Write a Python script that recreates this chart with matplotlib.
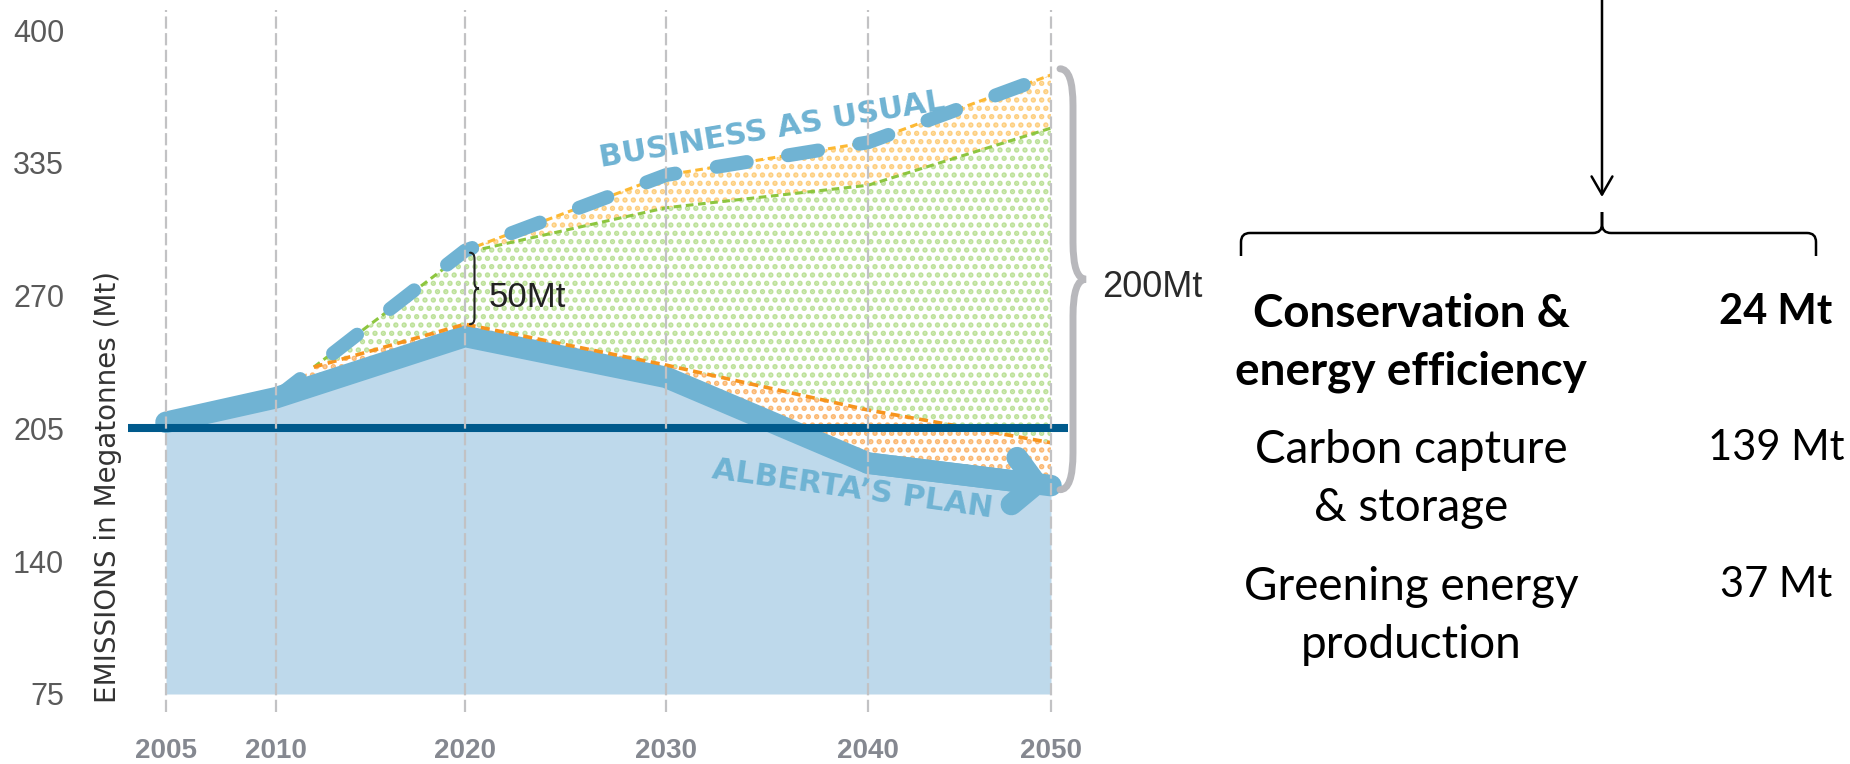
import numpy as np
import matplotlib
matplotlib.use("Agg")
import matplotlib.pyplot as plt
from matplotlib.path import Path
from matplotlib.patches import PathPatch

# emissions in Mt
years = [2005, 2010, 2020, 2030, 2040, 2050]
plan = [208, 220, 250, 230, 188, 177]
bau_years = [2010, 2020, 2030, 2040, 2050]
bau = [220, 292, 329, 345, 378]
wedge_years = [2012, 2020, 2030, 2040, 2050]
green_edge = [235, 291, 313, 324, 352]
orange_edge = [235, 256, 236, 214, 198]
level_2005 = 205
y_ticks = [75, 140, 205, 270, 335, 400]

wedge_names = ["Conservation &\nenergy efficiency",
               "Carbon capture\n& storage",
               "Greening energy\nproduction"]
wedge_mt = [24, 139, 37]

# the year axis in the original is not evenly spaced
tick_x = [0, 110, 299, 500, 702, 885]


def xp(y):
    return np.interp(y, years, tick_x)


def vbrace(ax, x0, w, ytop, ybot, r, **kw):
    # vertical curly brace, pointing right
    xm, x1, ym = x0 + w / 2, x0 + w, (ytop + ybot) / 2
    verts = [(x0, ytop), (xm, ytop), (xm, ytop - r),
             (xm, ym + r), (xm, ym), (x1, ym),
             (xm, ym), (xm, ym - r),
             (xm, ybot + r), (xm, ybot), (x0, ybot)]
    codes = [Path.MOVETO, Path.CURVE3, Path.CURVE3,
             Path.LINETO, Path.CURVE3, Path.CURVE3,
             Path.CURVE3, Path.CURVE3,
             Path.LINETO, Path.CURVE3, Path.CURVE3]
    ax.add_patch(PathPatch(Path(verts, codes), fill=False, capstyle="round", **kw))


plt.rcParams["font.family"] = ["Liberation Sans", "DejaVu Sans"]
plt.rcParams["hatch.linewidth"] = 2.6

W, H = 1850, 764
fig = plt.figure(figsize=(W / 100, H / 100), dpi=100)
px_per_mt = 2.043
ax = fig.add_axes([110 / W, (H - 720) / H, (1240 - 110) / W, 720 / H])
ax.set_xlim(110 - 166, 1240 - 166)
ax.set_ylim(75 - 26 / px_per_mt, 400 + 30 / px_per_mt)
for s in ax.spines.values():
    s.set_visible(False)
ax.patch.set_alpha(0)

ax.set_xticks(tick_x, [str(y) for y in years], fontsize=20, fontweight="bold", color="#858890")
ax.set_yticks(y_ticks, [str(v) for v in y_ticks], fontsize=22, color="#5a5a5a")
ax.tick_params(length=0)
ax.tick_params(axis="x", pad=13)
ax.tick_params(axis="y", pad=33)

# dotted wedges
ax.fill(list(xp(bau_years[1:])) + list(xp(wedge_years[1:]))[::-1],
        bau[1:] + green_edge[1:][::-1],
        facecolor="none", edgecolor="#fdcf80", hatch="..", lw=0, zorder=1)
ax.fill(list(xp(wedge_years)) + list(xp(wedge_years))[::-1],
        green_edge + orange_edge[::-1],
        facecolor="none", edgecolor="#bde19a", hatch="..", lw=0, zorder=1)
ax.fill(list(xp(wedge_years)) + list(xp(years[1:]))[::-1],
        orange_edge + plan[1:][::-1],
        facecolor="none", edgecolor="#fbb872", hatch="..", lw=0, zorder=1)

ax.plot(xp(bau_years[1:]), bau[1:], color="#fdb933", lw=2.2, dashes=(2.5, 1.5), zorder=2)
ax.plot(xp(wedge_years), green_edge, color="#8dc63f", lw=2.2, dashes=(2.5, 1.5), zorder=2)

# Alberta's plan
ax.fill_between(xp(years), y_ticks[0], plan, color="#bed9eb", lw=0, zorder=3)
plan_col = "#70b3d3"
ax.plot(xp(years), plan, color=plan_col, lw=15.5, solid_capstyle="round",
        solid_joinstyle="round", zorder=4)
ax.annotate("", xy=(xp(years[-1]), plan[-1]), xytext=(xp(years[-2]), plan[-2]),
            arrowprops=dict(arrowstyle="->,head_length=0.8,head_width=0.85", lw=15.5,
                            color=plan_col, capstyle="round", joinstyle="round",
                            mutation_scale=20, shrinkA=0, shrinkB=0), zorder=4)
ax.plot(xp(wedge_years), orange_edge, color="#f7941d", lw=2.6, dashes=(2.5, 1.5), zorder=5)

ax.hlines(level_2005, 128 - 166, 1068 - 166, color="#005a8c", lw=5.8, zorder=6)

# business as usual
ax.plot(xp(bau_years), bau, color=plan_col, lw=10, dashes=(2.2, 3.0),
        dash_capstyle="round", zorder=7)

ax.vlines(tick_x, 66, 410, colors="#c2c2c4", lw=1.6, linestyles=(0, (5.5, 2)), zorder=8)

ax.text(772 - 166, 351, "BUSINESS AS USUAL", rotation=9.5, rotation_mode="anchor",
        ha="center", va="center", fontsize=22, fontweight="bold", color="#6fb3d3",
        family="DejaVu Sans", zorder=7)
ax.text(852 - 166, 175, "ALBERTA\u2019S PLAN", rotation=-8, rotation_mode="anchor",
        ha="center", va="center", fontsize=22, fontweight="bold", color="#6fb3d3",
        family="DejaVu Sans", zorder=7)

# braces and gaps
vbrace(ax, 304, 9, green_edge[1], orange_edge[1], 3, lw=1.5, edgecolor="#222222", zorder=9)
ax.text(489 - 166, 269, "50Mt", fontsize=25, color="#222222", ha="left", va="center")
vbrace(ax, 1060 - 166, 26, bau[-1] + 3, plan[-1] - 2, 18, lw=5, edgecolor="#b8b8bc", zorder=9)
ax.text(1102 - 166, 274, "200Mt", fontsize=26, color="#2a2a2a", ha="left", va="center")

fig.text(108 / W, 1 - 487 / H, "EMISSIONS in Megatonnes (Mt)", rotation=90,
         ha="center", va="center", fontsize=20, color="#333333", family="DejaVu Sans")

# right-hand breakdown
ax2 = fig.add_axes([0, 0, 1, 1])
ax2.set_xlim(0, W)
ax2.set_ylim(H, 0)
ax2.axis("off")
ax2.patch.set_alpha(0)

ax2.annotate("", xy=(1602, 197), xytext=(1602, -5),
             arrowprops=dict(arrowstyle="->,head_length=1.3,head_width=0.75", lw=1.8,
                             color="black", mutation_scale=10, shrinkA=0, shrinkB=0))
xl, xc, xr, yb, yf, yp, r = 1241, 1602, 1816, 256, 233, 212, 9
verts = [(xl, yb), (xl, yf + r), (xl, yf), (xl + r, yf), (xc - r, yf), (xc, yf),
         (xc, yf - r), (xc, yp), (xc, yf - r), (xc, yf), (xc + r, yf),
         (xr - r, yf), (xr, yf), (xr, yf + r), (xr, yb)]
codes = [Path.MOVETO, Path.LINETO, Path.CURVE3, Path.CURVE3, Path.LINETO, Path.CURVE3,
         Path.CURVE3, Path.LINETO, Path.LINETO, Path.CURVE3, Path.CURVE3,
         Path.LINETO, Path.CURVE3, Path.CURVE3, Path.LINETO]
ax2.add_patch(PathPatch(Path(verts, codes), fill=False, lw=1.8, edgecolor="black"))

row_y = [343, 479, 616]
for i, (name, mt) in enumerate(zip(wedge_names, wedge_mt)):
    wt = "bold" if i == 0 else "normal"
    ax2.text(1411, row_y[i], name, ha="center", va="center", fontsize=33,
             fontweight=wt, family="Lato", linespacing=1.45)
    ax2.text(1776, row_y[i] - 31, f"{mt} Mt", ha="center", va="center",
             fontsize=30, fontweight=wt, family="Lato")

fig.savefig("out.png", dpi=100)
